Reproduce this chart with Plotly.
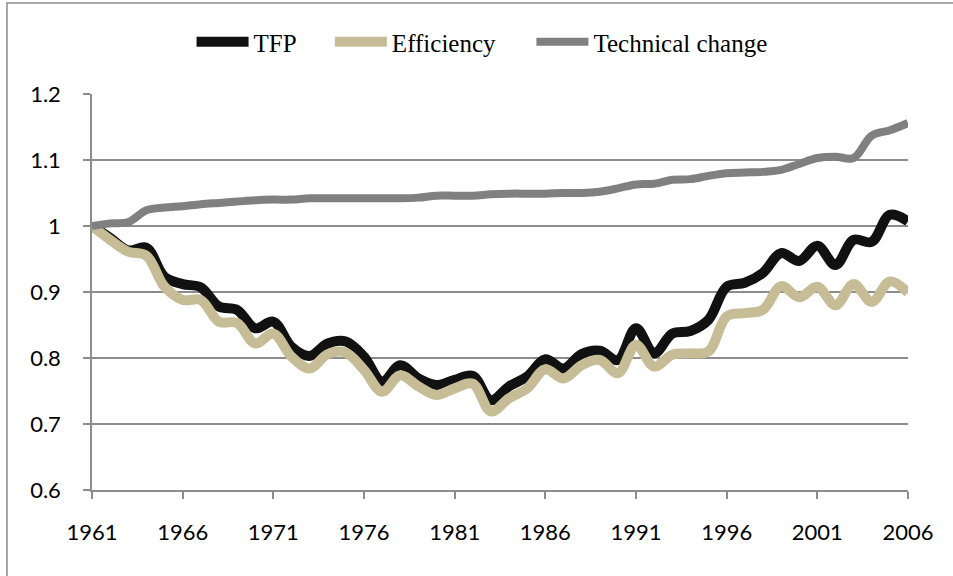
import plotly.graph_objects as go

# Years 1961-2006 (annual)
years = list(range(1961, 2007))

tfp = [1.000, 0.982, 0.963, 0.967, 0.923, 0.912, 0.907, 0.878, 0.873, 0.845,
       0.855, 0.817, 0.803, 0.822, 0.825, 0.802, 0.764, 0.789, 0.769, 0.759,
       0.767, 0.773, 0.736, 0.757, 0.772, 0.798, 0.784, 0.806, 0.811, 0.797,
       0.845, 0.807, 0.837, 0.841, 0.858, 0.908, 0.914, 0.929, 0.959, 0.947,
       0.970, 0.941, 0.979, 0.976, 1.017, 1.007]

efficiency = [1.000, 0.979, 0.961, 0.955, 0.908, 0.888, 0.888, 0.855, 0.853, 0.822,
              0.837, 0.802, 0.784, 0.806, 0.808, 0.782, 0.749, 0.774, 0.757, 0.744,
              0.754, 0.761, 0.719, 0.739, 0.754, 0.783, 0.769, 0.789, 0.797, 0.777,
              0.820, 0.787, 0.805, 0.807, 0.810, 0.863, 0.868, 0.873, 0.909, 0.892,
              0.908, 0.880, 0.912, 0.885, 0.916, 0.899]

tech_change = [1.000, 1.004, 1.006, 1.024, 1.028, 1.030, 1.033, 1.035, 1.037, 1.039,
               1.040, 1.040, 1.042, 1.042, 1.042, 1.042, 1.042, 1.042, 1.043, 1.046,
               1.046, 1.046, 1.048, 1.049, 1.049, 1.049, 1.050, 1.050, 1.052, 1.057,
               1.063, 1.064, 1.070, 1.071, 1.076, 1.080, 1.081, 1.082, 1.085, 1.094,
               1.103, 1.105, 1.103, 1.137, 1.145, 1.156]

x_ticks = list(range(1961, 2007, 5))
y_ticks = [0.6, 0.7, 0.8, 0.9, 1.0, 1.1, 1.2]
y_ticktext = ["0.6", "0.7", "0.8", "0.9", "1", "1.1", "1.2"]

# name, values, colour, width, legend id, legend x (paper)
series = [
    ("TFP", tfp, "#111111", 10, "legend", 0.122),
    ("Efficiency", efficiency, "#C6BD97", 10, "legend2", 0.2915),
    ("Technical change", tech_change, "#808080", 8, "legend3", 0.5385),
]

fig = go.Figure()
legends = {}
for name, vals, color, width, leg, lx in series:
    fig.add_trace(go.Scatter(
        x=years, y=vals, name=name, mode="lines", legend=leg,
        line=dict(color=color, width=width, shape="spline", smoothing=1.0),
    ))
    legends[leg] = dict(
        orientation="h", x=lx, y=1.131, xanchor="left", yanchor="middle",
        font=dict(family="Liberation Serif, serif", size=25),
        itemwidth=52, bgcolor="rgba(0,0,0,0)",
    )

grid = "#8c8c8c"
fig.update_layout(
    width=953, height=576,
    margin=dict(l=92, r=45, t=94, b=86, autoexpand=False),
    paper_bgcolor="white", plot_bgcolor="white",
    font=dict(family="Lato, Liberation Sans, sans-serif", size=22, color="#000000"),
    showlegend=True,
    shapes=[dict(
        type="rect", xref="paper", yref="paper",
        x0=-0.1042, x1=1.07, y0=-0.23, y1=1.2298,
        line=dict(color="#8c8c8c", width=1.5), fillcolor="rgba(0,0,0,0)",
    )],
    **legends,
)
fig.update_xaxes(
    range=[1961, 2006], tickvals=x_ticks, ticktext=[str(t) for t in x_ticks],
    showgrid=False, showline=True, linecolor=grid, linewidth=1.5,
    ticks="outside", ticklen=7, tickcolor=grid, tickwidth=1.5,
    ticklabelstandoff=15, zeroline=False,
)
fig.update_yaxes(
    range=[0.6, 1.2], tickvals=y_ticks, ticktext=y_ticktext,
    showgrid=True, gridcolor=grid, gridwidth=1.5,
    showline=True, linecolor=grid, linewidth=1.5,
    ticks="outside", ticklen=7, tickcolor=grid, tickwidth=1.5,
    ticklabelstandoff=18, zeroline=False,
)

# drop the page's default body margin so the figure sits at (0, 0)
fig.write_html(
    "out.html",
    config={"displayModeBar": False},
    post_script="document.body.style.margin='0';",
)
